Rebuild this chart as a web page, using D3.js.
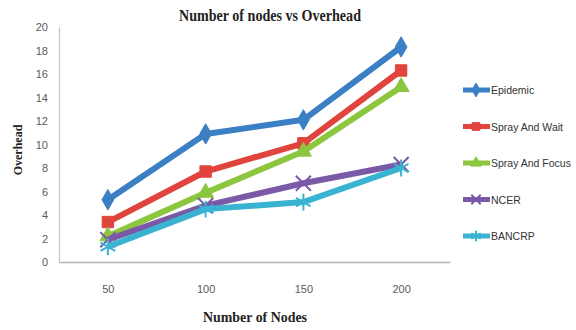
<!DOCTYPE html>
<html>
<head>
<meta charset="utf-8">
<script src="https://cdn.jsdelivr.net/npm/d3@7"></script>
<style>
  html, body { margin: 0; padding: 0; background: #fff; }
  svg { display: block; }
</style>
</head>
<body>
<svg id="chart" width="576" height="330"></svg>
<script>
// Network size on the x axis
const nodeCounts = ["50", "100", "150", "200"];
const yTicks = [0, 2, 4, 6, 8, 10, 12, 14, 16, 18, 20];

// Overhead per routing protocol
const epidemic      = [5.3, 10.9, 12.1, 18.3];
const sprayAndWait  = [3.4, 7.7, 10.1, 16.3];
const sprayAndFocus = [2.2, 5.9, 9.4, 14.9];
const ncer          = [1.9, 4.8, 6.7, 8.3];
const bancrp        = [1.3, 4.5, 5.1, 8.0];

const seriesNames = ["Epidemic", "Spray And Wait", "Spray And Focus", "NCER", "BANCRP"];
const seriesValues = [epidemic, sprayAndWait, sprayAndFocus, ncer, bancrp];
const seriesColors = ["#3b7fc4", "#e0443c", "#8cc63e", "#7a5aa6", "#3ab3d3"];
const seriesSymbols = [d3.symbolDiamond, d3.symbolSquare, d3.symbolTriangle, d3.symbolTimes, d3.symbolAsterisk];

const svg = d3.select("#chart");
const plot = { left: 59, right: 450, top: 27, bottom: 262 };

const x = d3.scalePoint().domain(nodeCounts).range([plot.left, plot.right]).padding(0.5);
const y = d3.scaleLinear().domain([0, 20]).range([plot.bottom, plot.top]);

// Title
svg.append("text")
  .attr("x", 270).attr("y", 21)
  .attr("text-anchor", "middle")
  .attr("font-family", "Liberation Serif, Times New Roman, serif")
  .attr("font-weight", "bold")
  .attr("font-size", 16)
  .attr("textLength", 182)
  .attr("lengthAdjust", "spacingAndGlyphs")
  .attr("fill", "#222")
  .text("Number of nodes vs Overhead");

// Y axis
const yAxis = svg.append("g")
  .attr("transform", `translate(${plot.left},0)`)
  .call(d3.axisLeft(y).tickValues(yTicks).tickSize(0).tickPadding(11));
yAxis.select(".domain").attr("stroke", "#c4c4c4").attr("stroke-width", 1.2);
yAxis.selectAll("text")
  .attr("font-family", "Liberation Sans, Arial, sans-serif")
  .attr("font-size", 11)
  .attr("fill", "#5a5a5a");

// X axis
const xAxis = svg.append("g")
  .attr("transform", `translate(0,${plot.bottom})`)
  .call(d3.axisBottom(x).tickSize(0).tickPadding(23));
xAxis.select(".domain").attr("stroke", "#b4b4b4").attr("stroke-width", 1.6);
xAxis.selectAll("text")
  .attr("font-family", "Liberation Sans, Arial, sans-serif")
  .attr("font-size", 11)
  .attr("fill", "#5a5a5a");

// Axis titles
svg.append("text")
  .attr("transform", "translate(22,150) rotate(-90)")
  .attr("text-anchor", "middle")
  .attr("font-family", "Liberation Serif, Times New Roman, serif")
  .attr("font-weight", "bold")
  .attr("font-size", 12)
  .attr("fill", "#222")
  .text("Overhead");

svg.append("text")
  .attr("x", 255).attr("y", 322)
  .attr("text-anchor", "middle")
  .attr("font-family", "Liberation Serif, Times New Roman, serif")
  .attr("font-weight", "bold")
  .attr("font-size", 14)
  .attr("textLength", 104)
  .attr("lengthAdjust", "spacingAndGlyphs")
  .attr("fill", "#222")
  .text("Number of Nodes");

// Series lines and markers
const line = d3.line().x((d, i) => x(nodeCounts[i])).y(d => y(d));

function drawMarker(g, symbolType, color, cx, cy, size) {
  const open = symbolType === d3.symbolTimes || symbolType === d3.symbolAsterisk;
  g.append("path")
    .attr("transform", `translate(${cx},${cy})`)
    .attr("d", d3.symbol().type(symbolType).size(size)())
    .attr("fill", open ? "none" : color)
    .attr("stroke", color)
    .attr("stroke-width", open ? 2 : 1);
}

seriesValues.forEach((vals, k) => {
  const g = svg.append("g");
  g.append("path")
    .datum(vals)
    .attr("d", line)
    .attr("fill", "none")
    .attr("stroke", seriesColors[k])
    .attr("stroke-width", 6)
    .attr("stroke-linejoin", "round");
  vals.forEach((v, i) => {
    const sz = [120, 130, 110, 150, 200][k];
    drawMarker(g, seriesSymbols[k], seriesColors[k], x(nodeCounts[i]), y(v), sz);
  });
});

// Legend
const legend = svg.append("g");
seriesNames.forEach((name, k) => {
  const ly = 90 + k * 36.5;
  legend.append("line")
    .attr("x1", 463).attr("x2", 490)
    .attr("y1", ly).attr("y2", ly)
    .attr("stroke", seriesColors[k])
    .attr("stroke-width", 5);
  drawMarker(legend, seriesSymbols[k], seriesColors[k], 476, ly, [55, 60, 50, 60, 80][k]);
  legend.append("text")
    .attr("x", 491).attr("y", ly + 4)
    .attr("font-family", "Liberation Sans, Arial, sans-serif")
    .attr("font-size", 10.5)
    .attr("fill", "#333")
    .text(name);
});
</script>
</body>
</html>
